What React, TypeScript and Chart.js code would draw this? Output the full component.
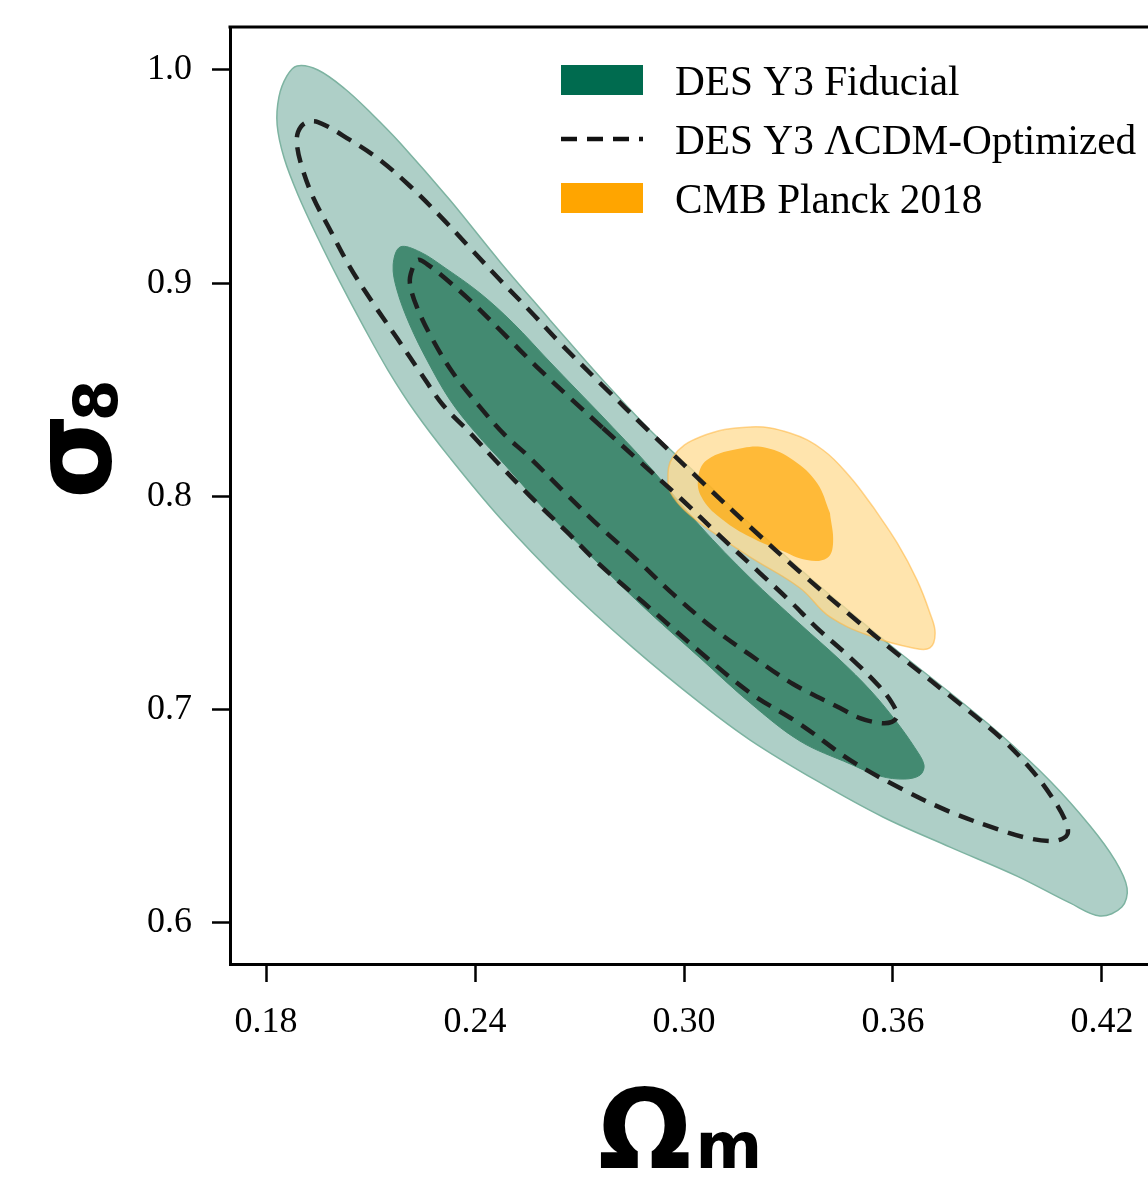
import React, { useEffect, useRef } from 'react';
import { Chart, registerables } from 'chart.js';

Chart.register(...registerables);

const xTicks = [0.18, 0.24, 0.3, 0.36, 0.42];
const xTickLabels = ['0.18', '0.24', '0.30', '0.36', '0.42'];
const yTicks = [0.6, 0.7, 0.8, 0.9, 1.0];
const yTickLabels = ['0.6', '0.7', '0.8', '0.9', '1.0'];
const legendLabels = ['DES Y3 Fiducial', 'DES Y3 \u039BCDM-Optimized', 'CMB Planck 2018'];
const xTitle = ['\u03A9', 'm'];
const yTitle = ['\u03C3', '8'];

// DES Y3 Fiducial, 95% contour (Omega_m, sigma_8)
const fiducial95: [number, number][] = [
  [0.2615, 0.8828], [0.2759, 0.856], [0.2902, 0.8312], [0.3046, 0.8091], [0.319, 0.7871],
  [0.3333, 0.766], [0.3477, 0.7458], [0.362, 0.7266], [0.3764, 0.7079], [0.3907, 0.6886],
  [0.4051, 0.6666], [0.4166, 0.6455], [0.4237, 0.6295], [0.4272, 0.6164], [0.4257, 0.6075],
  [0.4194, 0.6033], [0.4108, 0.6094], [0.3956, 0.622], [0.3764, 0.6356], [0.3571, 0.6497],
  [0.3382, 0.6666], [0.319, 0.6858], [0.3046, 0.7032], [0.2854, 0.729], [0.2653, 0.759],
  [0.2472, 0.7899], [0.2328, 0.8181], [0.2228, 0.8396], [0.215, 0.8593], [0.2079, 0.88],
  [0.2012, 0.9006], [0.1949, 0.9212], [0.1892, 0.9414], [0.1852, 0.9587], [0.1832, 0.9742],
  [0.1837, 0.9873], [0.186, 0.9972], [0.1889, 1.0019], [0.1949, 1.0], [0.2027, 0.9911],
  [0.2104, 0.9794], [0.2185, 0.9658], [0.2328, 0.939], [0.2472, 0.91],
];

// DES Y3 Fiducial, 68% contour
const fiducial68: [number, number][] = [
  [0.2759, 0.8387], [0.2902, 0.8138], [0.3046, 0.7862], [0.319, 0.7618], [0.3333, 0.7402],
  [0.3448, 0.7233], [0.3534, 0.7093], [0.3606, 0.6952], [0.3663, 0.6821], [0.3689, 0.6741],
  [0.3678, 0.6694], [0.3634, 0.6675], [0.3563, 0.6689], [0.3477, 0.6746], [0.3333, 0.6853],
  [0.319, 0.7032], [0.3046, 0.7243], [0.2902, 0.7454], [0.2788, 0.7632], [0.2607, 0.7927],
  [0.2486, 0.8148], [0.24, 0.8302], [0.2328, 0.8453], [0.2265, 0.8631], [0.2213, 0.8804],
  [0.2176, 0.8968], [0.2165, 0.9086], [0.2185, 0.917], [0.2242, 0.9147], [0.2314, 0.9072],
  [0.2414, 0.8954], [0.2509, 0.8814], [0.2615, 0.8631],
];

// DES Y3 LCDM-Optimized, 95% contour
const optimized95: [number, number][] = [
  [0.2759, 0.8532], [0.2902, 0.8302], [0.3046, 0.8077], [0.319, 0.7857], [0.3333, 0.7646],
  [0.3477, 0.7444], [0.362, 0.7252], [0.3764, 0.7064], [0.3907, 0.6872], [0.3993, 0.6727],
  [0.4056, 0.6591], [0.4094, 0.6483], [0.4102, 0.6422], [0.4085, 0.6394], [0.4051, 0.6384],
  [0.3985, 0.6399], [0.3907, 0.6436], [0.3764, 0.6521], [0.362, 0.6633], [0.3477, 0.6764],
  [0.3333, 0.6933], [0.319, 0.7079], [0.3046, 0.7271], [0.2882, 0.7505], [0.2759, 0.7679],
  [0.2664, 0.7834], [0.2558, 0.8002], [0.2463, 0.8162], [0.2386, 0.8298], [0.2308, 0.8429],
  [0.2242, 0.8584], [0.2176, 0.8743], [0.2107, 0.8907], [0.2041, 0.9076], [0.1984, 0.925],
  [0.1935, 0.9404], [0.1903, 0.9545], [0.1889, 0.9648], [0.1892, 0.9709], [0.1912, 0.9751],
  [0.1949, 0.9756], [0.2041, 0.9672], [0.2127, 0.9578], [0.2213, 0.9456], [0.23, 0.9315],
  [0.2386, 0.9165], [0.2472, 0.9015], [0.2558, 0.887], [0.2644, 0.872],
];

// DES Y3 LCDM-Optimized, 68% contour
const optimized68: [number, number][] = [
  [0.2767, 0.8321], [0.2874, 0.8162], [0.2989, 0.7993], [0.3103, 0.7815], [0.3218, 0.7641],
  [0.3304, 0.751], [0.3382, 0.7383], [0.3485, 0.7233], [0.3557, 0.7116], [0.3597, 0.7032],
  [0.3612, 0.6971], [0.3597, 0.6943], [0.3563, 0.6938], [0.3505, 0.6961], [0.3448, 0.7008],
  [0.3313, 0.7121], [0.319, 0.7257], [0.3083, 0.7383], [0.2968, 0.7543], [0.2865, 0.7702],
  [0.2759, 0.7857], [0.2653, 0.8026], [0.2549, 0.8195], [0.2486, 0.8288], [0.2414, 0.842],
  [0.2337, 0.8579], [0.2279, 0.8734], [0.2233, 0.8889], [0.2213, 0.9001], [0.2219, 0.9062],
  [0.2236, 0.9109], [0.2262, 0.909], [0.232, 0.9015], [0.2394, 0.8907], [0.248, 0.8767],
  [0.2578, 0.8607], [0.2673, 0.8462],
];

// CMB Planck 2018, 95% contour
const planck95: [number, number][] = [
  [0.3543, 0.7951], [0.3612, 0.7782], [0.3669, 0.7608], [0.3706, 0.7454], [0.3721, 0.736],
  [0.3706, 0.729], [0.3657, 0.729], [0.3543, 0.7341], [0.3419, 0.7435], [0.3333, 0.7571],
  [0.319, 0.7716], [0.3095, 0.7819], [0.3017, 0.7913], [0.2968, 0.8], [0.2954, 0.8063],
  [0.2968, 0.8185], [0.3046, 0.8279], [0.319, 0.8326], [0.3304, 0.8298], [0.3399, 0.8218],
  [0.3477, 0.8091],
];

// CMB Planck 2018, 68% contour
const planck68: [number, number][] = [
  [0.3419, 0.7923], [0.3428, 0.7782], [0.3411, 0.7712], [0.3353, 0.7702], [0.3276, 0.7749],
  [0.319, 0.781], [0.3112, 0.789], [0.3055, 0.7984], [0.304, 0.8077], [0.3066, 0.8171],
  [0.3169, 0.8227], [0.3238, 0.8227], [0.3313, 0.8171], [0.3382, 0.8063],
];

const closed = (pts: [number, number][]) => {
  const out = pts.map(([x, y]) => ({ x, y }));
  out.push({ x: pts[0][0], y: pts[0][1] });
  return out;
};

const SERIF = '"Liberation Serif", "DejaVu Serif", serif';
const SANS_BOLD = '"DejaVu Sans", "Noto Sans", sans-serif';
const DASH = [16, 10];

const decorPlugin = {
  id: 'decor',
  afterDraw(chart: any) {
    const { ctx, chartArea } = chart;
    ctx.save();
    // top frame line
    ctx.strokeStyle = '#000';
    ctx.lineWidth = 3;
    ctx.beginPath();
    ctx.moveTo(chartArea.left - 1.5, chartArea.top);
    ctx.lineTo(chart.width, chartArea.top);
    ctx.stroke();

    // legend
    const lx = 561, lw = 82, tx = 675;
    const rows = [80, 139, 198];
    ctx.fillStyle = '#006b4f';
    ctx.fillRect(lx, rows[0] - 15, lw, 30);
    ctx.strokeStyle = '#111';
    ctx.lineWidth = 4.5;
    ctx.setLineDash(DASH);
    ctx.beginPath();
    ctx.moveTo(lx, rows[1]);
    ctx.lineTo(lx + lw, rows[1]);
    ctx.stroke();
    ctx.setLineDash([]);
    ctx.fillStyle = '#ffa500';
    ctx.fillRect(lx, rows[2] - 15, lw, 30);
    ctx.fillStyle = '#000';
    ctx.font = `41.3px ${SERIF}`;
    ctx.textAlign = 'left';
    ctx.textBaseline = 'alphabetic';
    legendLabels.forEach((t, i) => ctx.fillText(t, tx, rows[i] + 15));

    // x title
    ctx.font = `bold 110px ${SANS_BOLD}`;
    ctx.fillText(xTitle[0], 598, 1168);
    const wO = ctx.measureText(xTitle[0]).width;
    ctx.font = `bold 64px ${SANS_BOLD}`;
    ctx.fillText(xTitle[1], 598 + wO + 4, 1168);

    // y title (rotated)
    ctx.translate(110, 499);
    ctx.rotate(-Math.PI / 2);
    ctx.font = `bold 110px ${SANS_BOLD}`;
    ctx.fillText(yTitle[0], 0, 0);
    const wS = ctx.measureText(yTitle[0]).width;
    ctx.font = `bold 60px ${SANS_BOLD}`;
    ctx.fillText(yTitle[1], wS - 8, 7);
    ctx.restore();
  },
};

const contour = (data: [number, number][], extra: any) => ({
  type: 'line',
  data: closed(data),
  pointRadius: 0,
  pointHoverRadius: 0,
  tension: 0.35,
  ...extra,
});

export default function App() {
  const ref = useRef<HTMLCanvasElement | null>(null);
  useEffect(() => {
    document.body.style.margin = '0';
    const canvas = ref.current!;
    const chart = new Chart(canvas, {
      type: 'line',
      data: {
        datasets: [
          contour(optimized68, {
            label: 'optimized68',
            fill: false,
            borderColor: '#1e1e1e',
            borderWidth: 4.5,
            borderDash: DASH,
            order: 0,
          }),
          contour(optimized95, {
            label: 'optimized95',
            fill: false,
            borderColor: '#1e1e1e',
            borderWidth: 4.5,
            borderDash: DASH,
            order: 1,
          }),
          contour(planck68, {
            label: 'planck68',
            fill: 'shape',
            backgroundColor: 'rgba(255,165,0,0.68)',
            borderColor: 'rgba(255,165,0,0)',
            borderWidth: 0,
            tension: 0.4,
            order: 2,
          }),
          contour(planck95, {
            label: 'planck95',
            fill: 'shape',
            backgroundColor: 'rgba(255,220,147,0.76)',
            borderColor: 'rgba(255,180,60,0.55)',
            borderWidth: 1.5,
            tension: 0.4,
            order: 3,
          }),
          contour(fiducial68, {
            label: 'fiducial68',
            fill: 'shape',
            backgroundColor: '#438a71',
            borderColor: '#438a71',
            borderWidth: 1,
            order: 4,
          }),
          contour(fiducial95, {
            label: 'fiducial95',
            fill: 'shape',
            backgroundColor: '#aecfc7',
            borderColor: '#7db3a1',
            borderWidth: 1.5,
            order: 5,
          }),
        ],
      },
      options: {
        animation: false,
        responsive: false,
        events: [],
        layout: { padding: { top: 27, left: 0, right: 0, bottom: 0 } },
        plugins: {
          legend: { display: false },
          tooltip: { enabled: false },
        },
        scales: {
          x: {
            type: 'linear',
            min: 0.16966,
            max: 0.43321,
            afterBuildTicks: (axis: any) => {
              axis.ticks = xTicks.map((v) => ({ value: v }));
            },
            afterFit: (s: any) => {
              s.height = 213;
              s.paddingLeft = 0;
              s.paddingRight = 0;
            },
            ticks: {
              callback: (_v: any, i: number) => xTickLabels[i],
              font: { family: SERIF, size: 36 },
              color: '#000',
              padding: 19,
              maxRotation: 0,
            },
            grid: {
              drawOnChartArea: false,
              drawTicks: true,
              tickLength: 18,
              tickWidth: 2.5,
              tickColor: '#000',
            },
            border: { display: true, color: '#000', width: 3 },
          },
          y: {
            type: 'linear',
            min: 0.58077,
            max: 1.02016,
            afterBuildTicks: (axis: any) => {
              axis.ticks = yTicks.map((v) => ({ value: v }));
            },
            afterFit: (s: any) => {
              s.width = 230;
              s.paddingTop = 0;
              s.paddingBottom = 0;
            },
            ticks: {
              callback: (_v: any, i: number) => yTickLabels[i],
              font: { family: SERIF, size: 36 },
              color: '#000',
              padding: 20,
            },
            grid: {
              drawOnChartArea: false,
              drawTicks: true,
              tickLength: 18,
              tickWidth: 2.5,
              tickColor: '#000',
            },
            border: { display: true, color: '#000', width: 3 },
          },
        },
      },
      plugins: [decorPlugin],
    } as any);
    return () => chart.destroy();
  }, []);

  return (
    <div style={{ position: 'absolute', left: 0, top: 0, width: 1148, height: 1177, background: '#fff' }}>
      <canvas ref={ref} width={1148} height={1177} />
    </div>
  );
}
